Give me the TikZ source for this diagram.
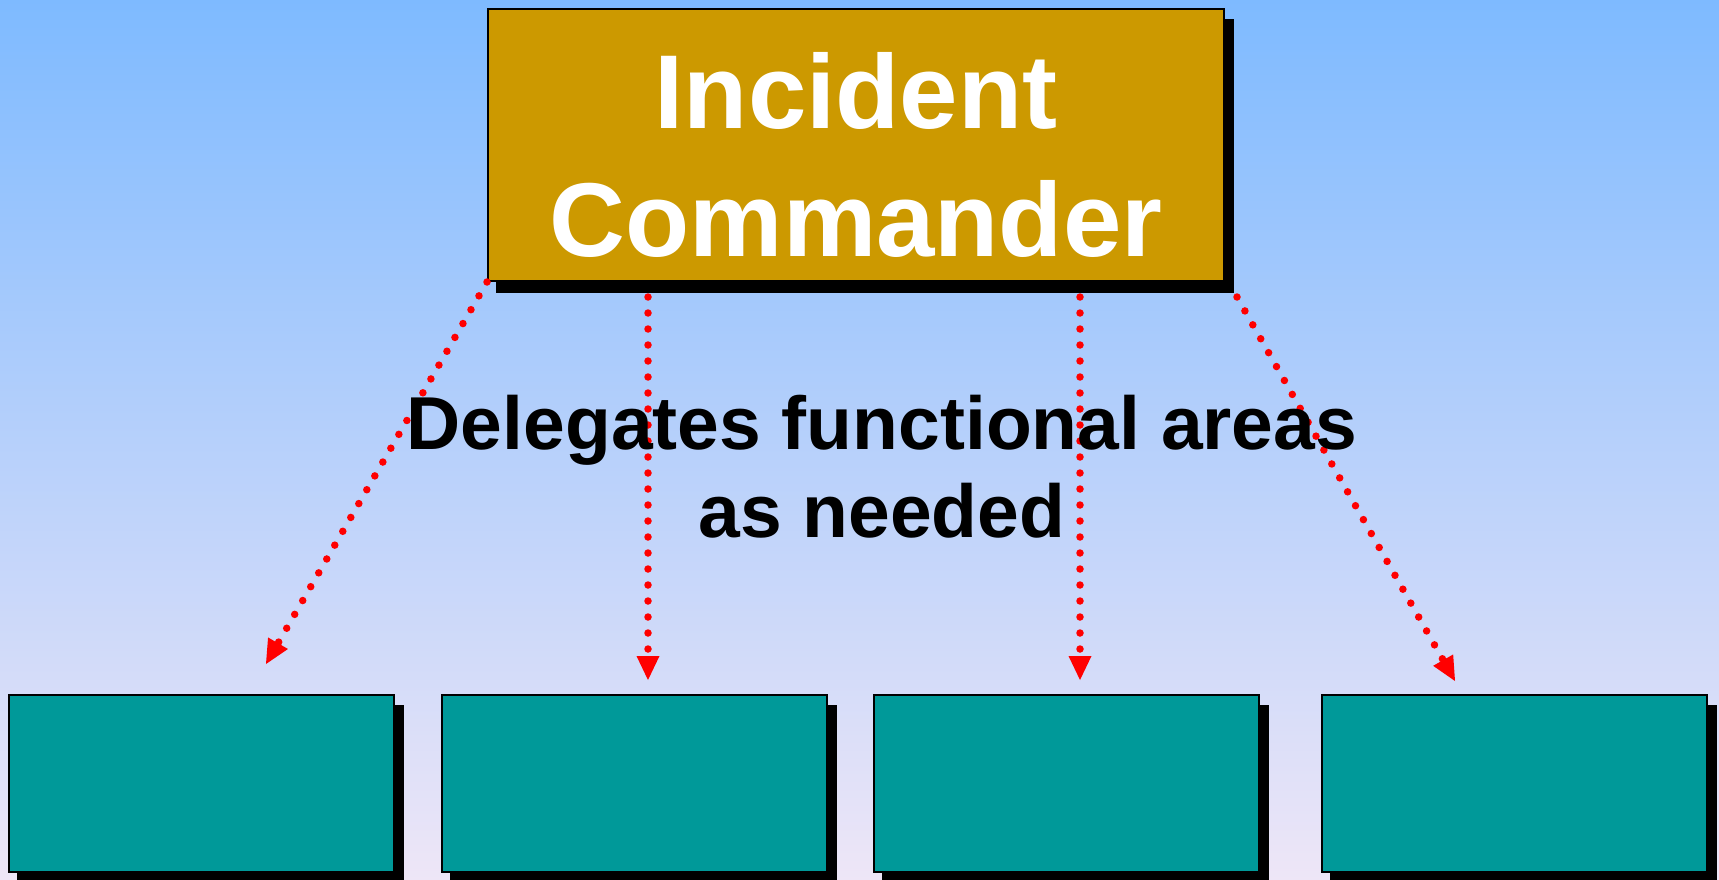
\documentclass[tikz,border=0pt]{standalone}
\usepackage{fontspec}
\setmainfont{Liberation Sans}
\usetikzlibrary{arrows.meta,backgrounds,calc}
\definecolor{bgtop}{RGB}{126,186,255}
\definecolor{bgbot}{RGB}{238,230,247}
\definecolor{gold}{RGB}{204,153,0}
\definecolor{teal}{RGB}{0,153,153}
\begin{document}
\begin{tikzpicture}[x=1pt,y=-1pt,
  box/.style={draw=black,line width=2pt,inner sep=0pt},
  cmdbox/.style={box,fill=gold,minimum width=736pt,minimum height=272pt},
  cmdtext/.style={text=white,font=\fontsize{105}{128}\selectfont\bfseries,align=center,yshift=-10pt},
  areabox/.style={box,fill=teal,minimum width=385pt,minimum height=177pt},
  shadowfill/.style={fill=black},
  conn/.style={draw=red,line width=7.5pt,line cap=round,dash pattern=on 0pt off 16pt,
    -{Triangle[width=23pt,length=24pt,line width=0pt,fill=red]}},
  lbl/.style={font=\fontsize{75}{88}\selectfont\bfseries,align=center,text=black}]
\useasboundingbox (0,0) rectangle (1719,880);
\node[cmdbox,label={[cmdtext]center:Incident\\Commander}] (ic) at (856,145) {};
\node[areabox] (a1) at (201.5,783.5) {};
\node[areabox] (a2) at (634.5,783.5) {};
\node[areabox] (a3) at (1066.5,783.5) {};
\node[areabox] (a4) at (1514.5,783.5) {};
\begin{scope}[on background layer]
  \shade[top color=bgtop,bottom color=bgbot] (0,0) rectangle (1719,880);
  \foreach \n in {ic,a1,a2,a3,a4}
    \fill[shadowfill] ([shift={(9,11)}]\n.north west) rectangle ([shift={(9,11)}]\n.south east);
\end{scope}
\coordinate (s2) at (648,297);
\coordinate (s3) at (1080,297);
\coordinate (s4) at (1237,297);
\coordinate (t1) at (266,664);
\coordinate (t2) at (648,680);
\coordinate (t3) at (1080,680);
\coordinate (t4) at (1455,681);
\draw[conn] (ic.south west) -- (t1);
\draw[conn] (s2) -- (t2);
\draw[conn] (s3) -- (t3);
\draw[conn] (s4) -- (t4);
\node[lbl,anchor=base] (lab) at (882,537) {Delegates functional areas\\as needed};
\end{tikzpicture}
\end{document}
